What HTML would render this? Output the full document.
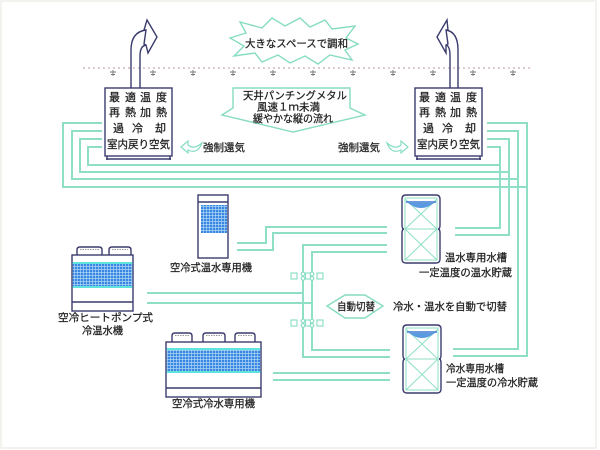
<!DOCTYPE html>
<html>
<head>
<meta charset="utf-8">
<style>
html,body{margin:0;padding:0;background:#fff;}
svg{display:block;}
text{font-family:"Liberation Sans","Noto Sans CJK JP",sans-serif;fill:#1e1e1e;font-size:10.5px;stroke:#1e1e1e;stroke-width:0.25;}
.bx{font-size:11px;}
</style>
</head>
<body>
<svg width="600" height="450" viewBox="0 0 600 450" xmlns="http://www.w3.org/2000/svg">
<defs>
<pattern id="grid" width="3" height="3" patternUnits="userSpaceOnUse">
<rect width="3" height="3" fill="#3a86e2"/>
<path d="M2.6,0V3M0,2.6H3" stroke="#a9d6f4" stroke-width="0.7"/>
</pattern>
</defs>
<rect x="1" y="1" width="595" height="447" fill="none" stroke="#e6e6de" stroke-width="1"/>

<!-- ceiling dotted line -->
<path d="M83,68H533" stroke="#c4aeb8" stroke-width="1.3" stroke-dasharray="2,3"/>
<g stroke="#777" stroke-width="0.9" fill="none">
<path d="M110,72h6M113,70v6M111,74.5h4"/>
<path d="M150,72h6M153,70v6M151,74.5h4"/>
<path d="M190,72h6M193,70v6M191,74.5h4"/>
<path d="M230,72h6M233,70v6M231,74.5h4"/>
<path d="M270,72h6M273,70v6M271,74.5h4"/>
<path d="M310,72h6M313,70v6M311,74.5h4"/>
<path d="M350,72h6M353,70v6M351,74.5h4"/>
<path d="M390,72h6M393,70v6M391,74.5h4"/>
<path d="M430,72h6M433,70v6M431,74.5h4"/>
<path d="M470,72h6M473,70v6M471,74.5h4"/>
<path d="M510,72h6M513,70v6M511,74.5h4"/>
</g>

<!-- starburst -->
<polygon points="230,38 246,33 240,22 262,28 272,18 285,26 300,18 310,27 325,20 332,29 355,26 346,38 358,44 345,50 352,60 330,55 318,64 305,56 290,63 278,55 262,62 255,53 234,56 244,46" fill="#fff" stroke="#86dcc2" stroke-width="1.4"/>
<text x="245" y="47" textLength="103" lengthAdjust="spacingAndGlyphs">大きなスペースで調和</text>

<!-- callout down arrow -->
<polygon points="233,88 350,88 350,108 365,115 293,132 222,115 233,108" fill="#fff" stroke="#86dcc2" stroke-width="1.4"/>
<text x="243" y="99" textLength="104" lengthAdjust="spacingAndGlyphs">天井パンチングメタル</text>
<text x="257" y="110.5" textLength="63" lengthAdjust="spacingAndGlyphs">風速１ｍ未満</text>
<text x="253" y="122" textLength="80" lengthAdjust="spacingAndGlyphs">緩やかな縦の流れ</text>

<!-- pipes -->
<g stroke="#8edfc6" stroke-width="2" fill="none">
<path d="M102,123H63V187H527"/>
<path d="M487,123H527V356H453"/>
<path d="M102,131H72V179H518"/>
<path d="M487,131H518V349H453"/>
<path d="M102,139H80V172H509"/>
<path d="M487,139H509V235H455"/>
<path d="M102,147H88V165H500"/>
<path d="M487,147H500V228H455"/>
<path d="M237,243H266V227H387"/>
<path d="M237,250H273V233H387"/>
<path d="M147,293H303"/>
<path d="M147,303H312"/>
<path d="M387,245H303V357H390"/>
<path d="M387,252H312V350H390"/>
<path d="M273,373H390"/>
<path d="M273,380H390"/>
</g>

<!-- valves -->
<g stroke="#8edfc6" stroke-width="1.2" fill="#fff">
<rect x="291" y="273" width="6" height="6"/>
<rect x="305.5" y="273" width="5" height="6"/>
<rect x="317" y="273" width="6" height="6"/>
<circle cx="303" cy="274" r="1.8"/><circle cx="303" cy="278.5" r="1.8"/>
<circle cx="312" cy="274" r="1.8"/><circle cx="312" cy="278.5" r="1.8"/>
<rect x="291" y="320" width="6" height="6"/>
<rect x="305.5" y="320" width="5" height="6"/>
<rect x="317" y="320" width="6" height="6"/>
<circle cx="303" cy="321" r="1.8"/><circle cx="303" cy="325.5" r="1.8"/>
<circle cx="312" cy="321" r="1.8"/><circle cx="312" cy="325.5" r="1.8"/>
</g>

<!-- auto switch diamond -->
<polygon points="327,306 345,295 365,295 383,306 365,318 345,318" fill="#fff" stroke="#86dcc2" stroke-width="1.4"/>
<text x="337" y="310" textLength="38" lengthAdjust="spacingAndGlyphs">自動切替</text>
<text x="393" y="310" textLength="114" lengthAdjust="spacingAndGlyphs">冷水・温水を自動で切替</text>

<!-- ducts and arrows -->
<g fill="#fff" stroke="#3b3b6e" stroke-width="1.4">
<path d="M131,88V50Q131,32 146,30" fill="none"/>
<path d="M140,88V56Q140,46 146,45" fill="none"/>
<polygon points="147,20 157,37 148,53 146,45 144,44 146,30 144,30"/>
</g>
<g transform="translate(592,0) scale(-1,1)" fill="#fff" stroke="#3b3b6e" stroke-width="1.4">
<path d="M134,88V50Q134,32 146,30" fill="none"/>
<path d="M142,88V56Q142,46 146,45" fill="none"/>
<polygon points="145,20 155,37 146,53 146,45 144,44 146,30 144,30"/>
</g>

<!-- indoor units -->
<g stroke="#3b3b6e" stroke-width="1.4" fill="#fff">
<rect x="105" y="88" width="67" height="68"/>
<path d="M106,159H171M107,156V160M170,156V160" fill="none"/>
<rect x="415" y="88" width="67" height="68"/>
<path d="M416,159H481M417,156V160M480,156V160" fill="none"/>
</g>
<text class="bx" x="109 125 140 156" y="101">最適温度</text>
<text class="bx" x="109 125 140 156" y="116">再熱加熱</text>
<text class="bx" x="113 132 155" y="132">過冷却</text>
<text class="bx" x="107" y="148" textLength="63" lengthAdjust="spacingAndGlyphs">室内戻り空気</text>
<text class="bx" x="419 435 450 466" y="101">最適温度</text>
<text class="bx" x="419 435 450 466" y="116">再熱加熱</text>
<text class="bx" x="423 442 465" y="132">過冷却</text>
<text class="bx" x="417" y="148" textLength="63" lengthAdjust="spacingAndGlyphs">室内戻り空気</text>

<!-- forced return air -->
<path d="M181,147L188,141L188,145C193,149 197,147 202,143C199,151 194,153 188,150L188,153Z" fill="#fff" stroke="#86dcc2" stroke-width="1.2"/>
<path d="M408,147L401,141L401,145C396,149 392,147 387,143C390,151 395,153 401,150L401,153Z" fill="#fff" stroke="#86dcc2" stroke-width="1.2"/>
<text x="203" y="151" textLength="42" lengthAdjust="spacingAndGlyphs">強制還気</text>
<text x="338" y="151" textLength="42" lengthAdjust="spacingAndGlyphs">強制還気</text>

<!-- warm water unit -->
<g stroke="#3b3b6e" stroke-width="1.4" fill="#fff">
<rect x="198" y="195" width="30" height="63"/>
<path d="M198,202H228" fill="none"/>
</g>
<rect x="201" y="205" width="26" height="28" fill="url(#grid)"/>
<text x="170" y="271" textLength="82" lengthAdjust="spacingAndGlyphs">空冷式温水専用機</text>

<!-- heat pump chiller -->
<g stroke="#3b3b6e" stroke-width="1.4" fill="#fff">
<path d="M77,255V250Q77,247 80,247H99Q102,247 102,250V255"/>
<path d="M109,255V250Q109,247 112,247H128Q131,247 131,250V255"/>
<rect x="72" y="255" width="61" height="56"/>
<path d="M72,302H133" fill="none"/>
</g>
<path d="M80,249.5H99M112,249.5H128" stroke="#999" stroke-width="1" stroke-dasharray="1.5,1"/>
<rect x="72.7" y="262" width="59.6" height="26" fill="url(#grid)"/>
<rect x="72.7" y="262" width="59.6" height="2" fill="#5fe3dc"/>
<rect x="72.7" y="286" width="59.6" height="2" fill="#5fe3dc"/>
<text x="58" y="321" textLength="95" lengthAdjust="spacingAndGlyphs">空冷ヒートポンプ式</text>
<text x="82" y="334" textLength="41" lengthAdjust="spacingAndGlyphs">冷温水機</text>

<!-- cold water unit -->
<g stroke="#3b3b6e" stroke-width="1.4" fill="#fff">
<path d="M172,342V336Q172,333 175,333H189Q192,333 192,336V342"/>
<path d="M203,342V336Q203,333 206,333H222Q225,333 225,336V342"/>
<path d="M235,342V336Q235,333 238,333H252Q255,333 255,336V342"/>
<rect x="166" y="342" width="95" height="55"/>
<path d="M166,388H261" fill="none"/>
</g>
<path d="M175,335.5H189M206,335.5H222M238,335.5H252" stroke="#999" stroke-width="1" stroke-dasharray="1.5,1"/>
<rect x="166.7" y="348" width="93.6" height="25" fill="url(#grid)"/>
<rect x="166.7" y="348" width="93.6" height="2" fill="#5fe3dc"/>
<rect x="166.7" y="371" width="93.6" height="2" fill="#5fe3dc"/>
<text x="172" y="407" textLength="83" lengthAdjust="spacingAndGlyphs">空冷式冷水専用機</text>

<!-- tanks -->
<g>
<path d="M406,195H436Q440,195 440,199V225Q440,229 438,229Q440,229 440,233V259Q440,263 436,263H406Q402,263 402,259V233Q402,229 404,229Q402,229 402,225V199Q402,195 406,195Z" fill="#fff" stroke="#3b3b6e" stroke-width="1.4"/>
<g stroke="#8edfc6" stroke-width="1" fill="none">
<rect x="405" y="198" width="32" height="62"/>
<path d="M405,229H437M405,199L437,229M437,199L405,229M405,229L437,260M437,229L405,260"/>
</g>
<path d="M406,202H436" stroke="#3a78d0" stroke-width="1.5"/>
<path d="M408,203Q421,213 434,203Z" fill="#5a9ae0"/>
</g>
<g transform="translate(1,130)">
<path d="M406,195H436Q440,195 440,199V225Q440,229 438,229Q440,229 440,233V259Q440,263 436,263H406Q402,263 402,259V233Q402,229 404,229Q402,229 402,225V199Q402,195 406,195Z" fill="#fff" stroke="#3b3b6e" stroke-width="1.4"/>
<g stroke="#8edfc6" stroke-width="1" fill="none">
<rect x="405" y="198" width="32" height="62"/>
<path d="M405,229H437M405,199L437,229M437,199L405,229M405,229L437,260M437,229L405,260"/>
</g>
<path d="M406,202H436" stroke="#3a78d0" stroke-width="1.5"/>
<path d="M408,203Q421,213 434,203Z" fill="#5a9ae0"/>
</g>
<text x="445" y="261" textLength="62" lengthAdjust="spacingAndGlyphs">温水専用水槽</text>
<text x="419" y="276" textLength="93" lengthAdjust="spacingAndGlyphs">一定温度の温水貯蔵</text>
<text x="446" y="372" textLength="58" lengthAdjust="spacingAndGlyphs">冷水専用水槽</text>
<text x="446" y="386" textLength="92" lengthAdjust="spacingAndGlyphs">一定温度の冷水貯蔵</text>
</svg>
</body>
</html>
